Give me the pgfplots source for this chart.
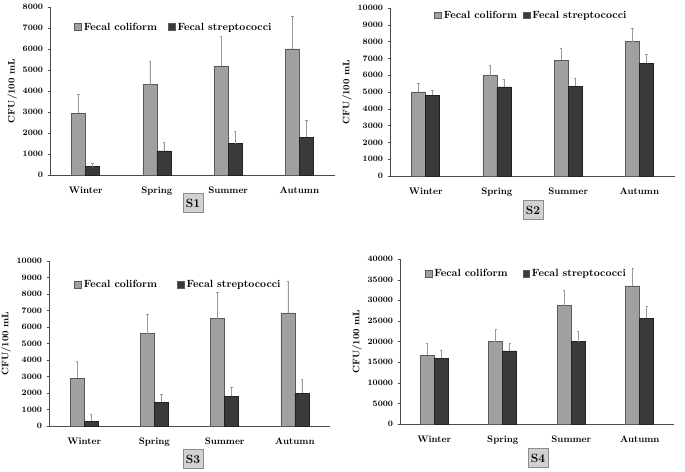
\documentclass[border=0pt]{standalone}
\usepackage{pgfplots}
\pgfplotsset{compat=1.18}
\usepackage{pgfplotstable}
\definecolor{lightbar}{HTML}{A0A0A0}
\definecolor{lightedge}{HTML}{5A5A5A}
\definecolor{darkbar}{HTML}{3A3A3A}
\definecolor{darkedge}{HTML}{222222}

\pgfplotstableread{
x y e
0 2950 900
1 4300 1100
2 5200 1400
3 6000 1580
}\sAfc
\pgfplotstableread{
x y e
0 400 160
1 1150 410
2 1500 580
3 1800 800
}\sAfs
\pgfplotstableread{
x y e
0 5000 500
1 5970 610
2 6900 680
3 8000 820
}\sBfc
\pgfplotstableread{
x y e
0 4800 300
1 5300 450
2 5350 470
3 6700 550
}\sBfs
\pgfplotstableread{
x y e
0 2900 1000
1 5600 1200
2 6500 1600
3 6850 1950
}\sCfc
\pgfplotstableread{
x y e
0 300 420
1 1450 500
2 1800 580
3 2000 820
}\sCfs
\pgfplotstableread{
x y e
0 16700 2800
1 20000 3000
2 28700 3800
3 33500 4200
}\sDfc
\pgfplotstableread{
x y e
0 15900 2000
1 17700 2000
2 20000 2500
3 25600 3000
}\sDfs

\tikzset{
  lab/.style={draw=black!45, fill=black!18, font=\bfseries\fontsize{12}{13}\selectfont, inner sep=3bp, minimum height=19bp, minimum width=19bp},
}
\pgfplotsset{
  panel/.style={
    scale only axis,
    anchor=south west,
    axis lines*=left,
    axis line style={black!70, -},
    xmin=-0.5, xmax=3.5,
    ymin=0,
    xtick={0,1,2,3},
    xticklabels={Winter,Spring,Summer,Autumn},
    major x tick style={draw=none},
    ytick pos=left,
    tick align=outside,
    major tick length=2.5bp,
    ytick style={black!70},
    /pgf/number format/assume math mode=true,
    /pgf/number format/1000 sep={},
    scaled y ticks=false,
    yticklabel style={font=\bfseries\fontsize{8.3}{9}\selectfont, xshift=-1pt},
    xticklabel style={font=\bfseries\fontsize{9.5}{10}\selectfont, yshift=-6bp},
    ylabel={CFU/100 mL},
    ylabel style={font=\bfseries\fontsize{9.5}{10}\selectfont, yshift=-1bp},
    ybar, bar width=14bp,
    legend columns=2,
    legend style={draw=none, fill=none, font=\bfseries\fontsize{10.5}{11}\selectfont, inner sep=0pt, anchor=west,
      /tikz/every even column/.append style={column sep=3bp}},
    legend image code/.code={\draw[#1, draw=lightedge] (0cm,-0.11cm) rectangle (0.24cm,0.13cm);},
    clip=false,
  },
  fc/.style={fill=lightbar, draw=lightedge, line width=0.6pt, bar shift=-7bp,
    error bars/.cd, y dir=plus, y explicit,
    error bar style={black!40, line width=0.6pt},
    error mark options={rotate=90, mark size=1.2pt, black!40}},
  fs/.style={fill=darkbar, draw=darkedge, line width=0.6pt, bar shift=7bp,
    error bars/.cd, y dir=plus, y explicit,
    error bar style={black!40, line width=0.6pt},
    error mark options={rotate=90, mark size=1.2pt, black!40}},
}

\begin{document}
\begin{tikzpicture}[x=1bp,y=1bp]
\useasboundingbox (0,0) rectangle (685,-472);

% S1
\begin{axis}[panel, at={(50bp,-175bp)}, width=285bp, height=168bp,
  ymax=8000, ytick={0,1000,...,8000},
  legend style={at={(0.085,0.88)},
    /tikz/every even column/.append style={column sep=9bp}}]
\addplot[fc] table[x=x, y=y, y error=e] {\sAfc};
\addplot[fs] table[x=x, y=y, y error=e] {\sAfs};
\legend{Fecal coliform, Fecal streptococci}
\end{axis}
\node[lab] at (193,-203) {S1};

% S2
\begin{axis}[panel, at={(390bp,-176bp)}, width=285bp, height=168bp,
  ymax=10000, ytick={0,1000,...,10000},
  legend style={at={(0.155,0.955)},
    /tikz/every even column/.append style={column sep=4bp}}]
\addplot[fc] table[x=x, y=y, y error=e] {\sBfc};
\addplot[fs] table[x=x, y=y, y error=e] {\sBfs};
\legend{Fecal coliform, Fecal streptococci}
\end{axis}
\node[lab] at (533,-210) {S2};

% S3
\begin{axis}[panel, at={(49bp,-426bp)}, width=281bp, height=165bp,
  ymax=10000, ytick={0,1000,...,10000},
  legend style={at={(0.09,0.855)},
    /tikz/every even column/.append style={column sep=18bp}}]
\addplot[fc] table[x=x, y=y, y error=e] {\sCfc};
\addplot[fs] table[x=x, y=y, y error=e] {\sCfs};
\legend{Fecal coliform, Fecal streptococci}
\end{axis}
\node[lab] at (193,-459) {S3};

% S4
\begin{axis}[panel, at={(400bp,-424bp)}, width=274bp, height=165bp,
  ymax=40000, ytick={0,5000,...,40000},
  legend style={at={(0.09,0.91)},
    /tikz/every even column/.append style={column sep=13bp}}]
\addplot[fc] table[x=x, y=y, y error=e] {\sDfc};
\addplot[fs] table[x=x, y=y, y error=e] {\sDfs};
\legend{Fecal coliform, Fecal streptococci}
\end{axis}
\node[lab] at (538,-458) {S4};
\end{tikzpicture}
\end{document}
